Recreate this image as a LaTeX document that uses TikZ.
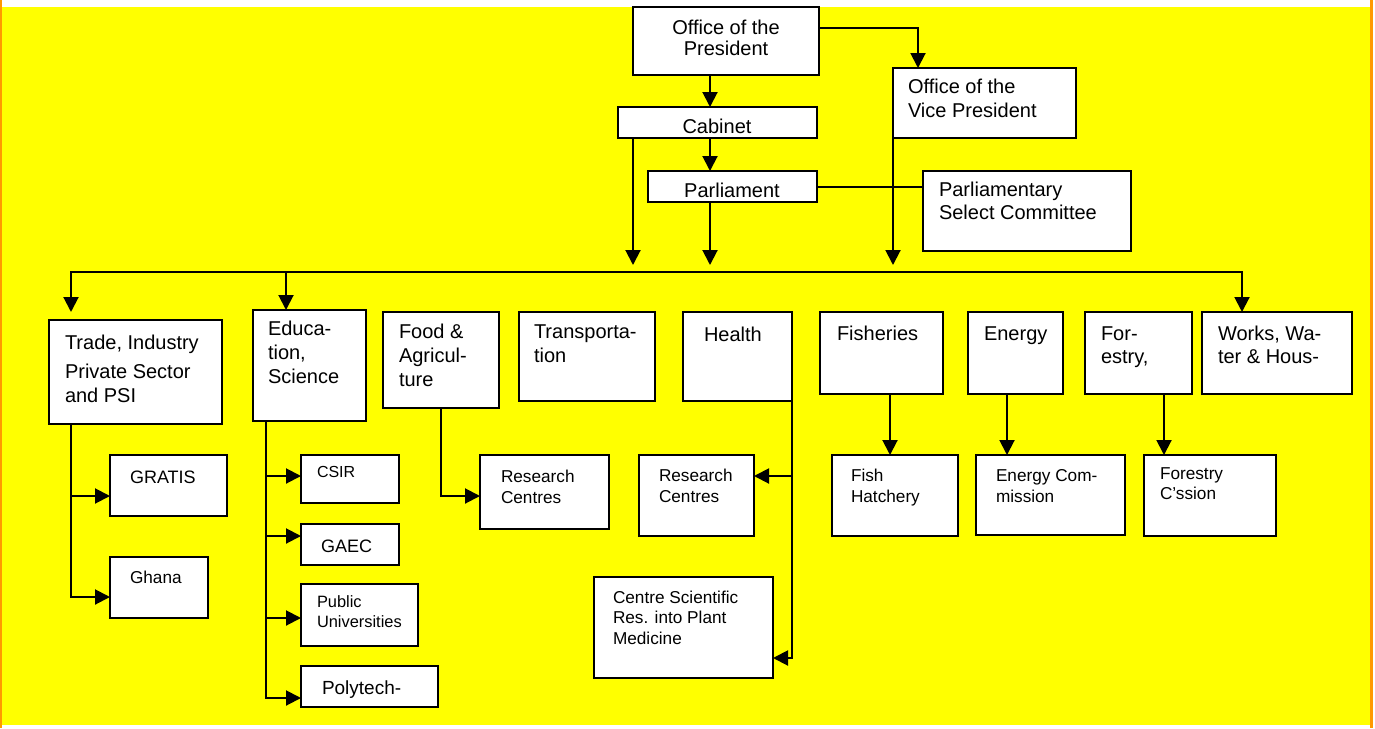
\documentclass[tikz,border=0pt]{standalone}
\usepackage{fontspec}
\setmainfont{Liberation Sans}
\usetikzlibrary{arrows.meta,fit,calc}
\definecolor{bgyellow}{RGB}{255,255,0}
\definecolor{edgeorange}{RGB}{255,153,0}
\begin{document}
\begin{tikzpicture}[x=0.5pt,y=-0.5pt,
  box/.style={draw=black, fill=white, line width=1.1pt, inner sep=0pt, outer sep=0pt},
  txt/.style={inner sep=0pt, outer sep=0pt, align=left, anchor=base west},
  conn/.style={line width=1pt, draw=black},
  arr/.style={conn, -{Triangle[length=7.5pt,width=7.5pt]}},
  arrboth/.style={conn, {Triangle[length=7.5pt,width=7.5pt]}-{Triangle[length=7.5pt,width=7.5pt]}},
  fA/.style={font=\fontsize{10}{12}\selectfont},
  fB/.style={font=\fontsize{8.6}{10.5}\selectfont},
]
\useasboundingbox (0,0) rectangle (1375,728);
\fill[white] (0,0) rectangle (1375,728);
\fill[bgyellow] (1,7) rectangle (1371,725);
\fill[edgeorange] (0,0) rectangle (1.5,728);
\fill[edgeorange] (1370,0) rectangle (1372.5,728);

% boxes
\node[box, fit={(633,7) (819,75)}] (pres) {};
\node[box, fit={(893,68) (1076,138)}] (vp) {};
\node[box, fit={(618,107) (817,138)}] (cab) {};
\node[box, fit={(648,171) (817,202)}] (par) {};
\node[box, fit={(923,171) (1131,251)}] (psc) {};
\node[box, fit={(49,320) (222,424)}] (trade) {};
\node[box, fit={(253,310) (366,421)}] (edu) {};
\node[box, fit={(383,312) (499,408)}] (food) {};
\node[box, fit={(519,312) (655,401)}] (trans) {};
\node[box, fit={(683,312) (792,401)}] (health) {};
\node[box, fit={(820,312) (943,394)}] (fish) {};
\node[box, fit={(968,312) (1063,394)}] (energy) {};
\node[box, fit={(1085,312) (1192,394)}] (forest) {};
\node[box, fit={(1202,312) (1352,394)}] (works) {};
\node[box, fit={(110,455) (227,516)}] (gratis) {};
\node[box, fit={(110,557) (208,618)}] (ghana) {};
\node[box, fit={(301,455) (399,503)}] (csir) {};
\node[box, fit={(301,524) (399,565)}] (gaec) {};
\node[box, fit={(301,584) (418,646)}] (pu) {};
\node[box, fit={(301,666) (438,707)}] (poly) {};
\node[box, fit={(480,455) (609,529)}] (rcf) {};
\node[box, fit={(639,455) (754,536)}] (rch) {};
\node[box, fit={(594,577) (773,678)}] (csrpm) {};
\node[box, fit={(832,455) (958,536)}] (hatch) {};
\node[box, fit={(976,455) (1125,535)}] (ecom) {};
\node[box, fit={(1144,455) (1276,536)}] (fcom) {};

% texts (multi-line nodes are placed by the baseline of their last line)
\node[txt, align=center, anchor=base, font=\fontsize{10}{10.5}\selectfont] (pres-t) at (726,55) {Office of the\\President};
\node[txt, fA] (vp-t) at (908,117) {Office of the\\Vice President};
\node[txt, fA, anchor=base] (cab-t) at (717,133) {Cabinet};
\node[txt, fA, anchor=base] (par-t) at (732,197) {Parliament};
\node[txt, font=\fontsize{10}{11.5}\selectfont] (psc-t) at (939,219) {Parliamentary\\Select Committee};
\node[txt, fA] (trade-t) at (65,402) {Trade, Industry\\[2.5pt]Private Sector\\and PSI};
\node[txt, fA] (edu-t) at (268,383) {Educa-\\tion,\\Science};
\node[txt, fA] (food-t) at (399,386) {Food \&\\Agricul-\\ture};
\node[txt, fA] (trans-t) at (534,362) {Transporta-\\tion};
\node[txt, fA] (health-t) at (704,341) {Health};
\node[txt, fA] (fish-t) at (837,340) {Fisheries};
\node[txt, fA] (energy-t) at (984,340) {Energy};
\node[txt, font=\fontsize{10}{11.5}\selectfont] (forest-t) at (1101,363) {For-\\estry,};
\node[txt, font=\fontsize{10}{11.5}\selectfont] (works-t) at (1218,363) {Works, Wa-\\ter \& Hous-};
\node[txt, font=\fontsize{9}{11}\selectfont] (gratis-t) at (130,483) {GRATIS};
\node[txt, fB] (ghana-t) at (130,583) {Ghana};
\node[txt, font=\fontsize{8}{10}\selectfont] (csir-t) at (317,477) {CSIR};
\node[txt, font=\fontsize{9}{11}\selectfont] (gaec-t) at (321,552) {GAEC};
\node[txt, font=\fontsize{8.2}{10}\selectfont] (pu-t) at (317,627) {Public\\Universities};
\node[txt, font=\fontsize{9.5}{11}\selectfont] (poly-t) at (322,694) {Polytech-};
\node[txt, fB] (rcf-t) at (501,503) {Research\\Centres};
\node[txt, fB] (rch-t) at (659,502) {Research\\Centres};
\node[txt, font=\fontsize{8.6}{10.25}\selectfont] (csrpm-t) at (613,644) {Centre Scientific\\Res. into Plant\\Medicine};
\node[txt, fB] (hatch-t) at (851,502) {Fish\\Hatchery};
\node[txt, fB] (ecom-t) at (996,502) {Energy Com-\\mission};
\node[txt, font=\fontsize{8.6}{10}\selectfont] (fcom-t) at (1160,499) {Forestry\\C’ssion};

% helper coordinates
\coordinate (spine) at (710,0);
\coordinate (cabX) at (633,0);
\coordinate (tipY) at (0,265);
\coordinate (busY) at (0,272);
\coordinate (tradeX) at (71,0);
\coordinate (tradeTip) at (71,312);
\coordinate (worksX) at (1242,0);
\coordinate (eduX) at (286,0);
\coordinate (eduL) at (266,0);
\coordinate (foodX) at (441,0);
\coordinate (fishX) at (890,0);
\coordinate (energyX) at (1007,0);
\coordinate (forestX) at (1164,0);
\coordinate (grY) at (0,496);
\coordinate (ghY) at (0,597);
\coordinate (csirY) at (0,476);
\coordinate (gaecY) at (0,536);
\coordinate (puY) at (0,618);
\coordinate (polyY) at (0,698);
\coordinate (rcfY) at (0,496);
\coordinate (rchY) at (0,476);
\coordinate (csY) at (0,658);

% top connectors
\draw[arr] (pres.south -| spine) -- (cab.north -| spine);
\draw[arr] (cab.south -| spine) -- (par.north -| spine);
\draw[arr] ([yshift=6.5pt]pres.east) -| ($(vp.north west)+(25,0)$);
\draw[arr] (cab.south -| cabX) -- (tipY -| cabX);
\draw[arr] (par.south -| spine) -- (tipY -| spine);
\draw[arr] (vp.south west) -- (tipY -| vp.south west);
\draw[conn] (par.east) -- (psc.west |- par.east);

% bus
\draw[arrboth] (tradeTip) -- (tradeX |- busY) -- (worksX |- busY) -- (works.north -| worksX);
\draw[arr] (eduX |- busY) -- (edu.north -| eduX);

% trade
\draw[arr] (trade.south -| tradeX) |- (ghana.west |- ghY);
\draw[arr] (tradeX |- grY) -- (gratis.west |- grY);
% education
\draw[arr] (edu.south -| eduL) |- (poly.west |- polyY);
\draw[arr] (eduL |- csirY) -- (csir.west |- csirY);
\draw[arr] (eduL |- gaecY) -- (gaec.west |- gaecY);
\draw[arr] (eduL |- puY) -- (pu.west |- puY);
% food
\draw[arr] (food.south -| foodX) |- (rcf.west |- rcfY);
% health
\draw[arr] (health.south east) |- (csrpm.east |- csY);
\draw[arr] (health.south east |- rchY) -- (rch.east |- rchY);
% fisheries, energy, forestry
\draw[arr] (fish.south -| fishX) -- (hatch.north -| fishX);
\draw[arr] (energy.south -| energyX) -- (ecom.north -| energyX);
\draw[arr] (forest.south -| forestX) -- (fcom.north -| forestX);
\end{tikzpicture}
\end{document}
